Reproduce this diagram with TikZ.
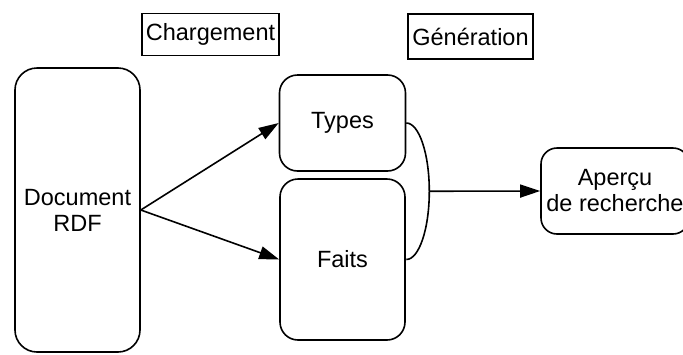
\documentclass[tikz,border=0pt]{standalone}
\usepackage{fontspec}
\setmainfont{Liberation Sans}
\usepackage{tikz}
\usetikzlibrary{positioning, arrows.meta}

\begin{document}
\begin{tikzpicture}[x=1pt, y=-1pt,
    font=\fontsize{23.5}{26}\selectfont,
    every node/.style={line width=1.6pt, inner sep=0pt, align=center},
    stage/.style={draw, rounded corners=18pt},
    phase/.style={draw, inner sep=3pt},
    flow/.style={-{Triangle[length=20pt, width=13pt]}, line width=1.6pt}]
      \useasboundingbox (0,0) rectangle (683,354);
      \clip (0,0) rectangle (683,354);

      % Phase labels
      \node[phase, minimum width=137pt, minimum height=42pt] (charg) at (210.5, 34.5) {Chargement};
      \node[phase, minimum width=125pt, minimum height=45pt] (gen) at (470.5, 36.5) {Génération};

      % Boxes
      \node[stage, rounded corners=22pt, minimum width=125pt, minimum height=284pt] (doc) at (77.5, 210) {Document\\RDF};
      \node[stage, minimum width=126pt, minimum height=96pt] (types) at (342.5, 123) {Types};
      \node[stage, minimum width=125pt, minimum height=161pt] (faits) at (342.5, 259.5) {Faits};
      \node[stage, rounded corners=16pt, minimum width=148pt, minimum height=86pt] (apercu) at (615, 191) {Aperçu\\de recherche};

      % Loading arrows
      \draw[flow] (doc.east) -- (types.west);
      \draw[flow] (doc.east) -- (faits.west);

      % Merge of types and facts
      \draw[line width=1.6pt] (types.east) arc[start angle=-90, end angle=0, x radius=23, y radius=68.25]
        coordinate (join) arc[start angle=0, end angle=90, x radius=23, y radius=68.25];
      \draw[flow] (join) -- (apercu.west);
    \end{tikzpicture}
\end{document}
